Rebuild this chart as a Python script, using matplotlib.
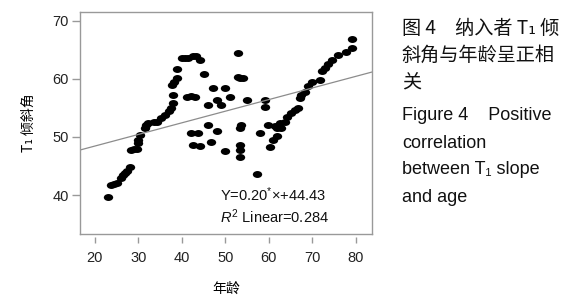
import matplotlib
matplotlib.use("Agg")
import matplotlib.pyplot as plt
from matplotlib.markers import MarkerStyle
from matplotlib.transforms import Affine2D

plt.rcParams["font.family"] = ["Liberation Sans", "Noto Sans CJK SC", "DejaVu Sans"]
plt.rcParams["mathtext.fontset"] = "custom"
plt.rcParams["mathtext.rm"] = "Liberation Sans"
plt.rcParams["mathtext.it"] = "Liberation Sans:italic"

# age vs T1 slope
age = [
    23.1, 23.8, 24.4, 25.0, 26.0, 26.5, 26.9, 27.3, 28.0,
    28.4, 28.9, 29.6, 30.0, 30.0, 30.3, 31.5, 31.8, 32.3, 33.5, 34.2,
    35.3, 36.1, 37.0, 37.5, 38.0, 38.0, 37.8, 38.2, 39.0, 38.8,
    40.1, 40.8, 41.5, 42.6, 43.2, 44.1,
    41.1, 42.2, 43.0, 45.0, 47.2, 49.9, 46.0, 48.0, 49.1, 51.0,
    52.9, 52.9, 53.3, 54.1, 54.9, 59.1, 59.1,
    42.2, 43.7, 46.0, 48.0, 53.7, 53.3, 59.8, 57.9,
    42.6, 44.1, 46.8, 49.9, 53.3, 53.3, 53.3, 57.2,
    60.2, 61.0, 61.8, 61.8, 62.9, 63.7, 64.1, 65.2, 66.0, 66.7,
    67.1, 67.5, 68.3, 69.0, 69.8, 71.7, 72.1, 72.9, 73.6, 74.4,
    75.9, 77.8, 79.0, 79.0, 62.5, 61.4,
]
slope = [
    39.6, 41.8, 41.9, 42.1, 42.9, 43.4, 43.8, 44.2, 44.8,
    47.8, 47.9, 48.0, 48.9, 49.5, 50.3, 51.5, 52.0, 52.4, 52.5, 52.6,
    53.2, 53.8, 54.5, 55.0, 55.8, 57.2, 59.0, 59.5, 60.1, 61.7,
    63.6, 63.6, 63.6, 64.0, 64.0, 63.3,
    56.8, 57.1, 56.9, 60.8, 58.4, 58.4, 55.5, 56.4, 55.5, 56.9,
    64.4, 60.4, 60.2, 60.1, 56.4, 56.4, 55.2,
    50.6, 50.6, 52.1, 51.1, 52.1, 51.5, 52.1, 50.6,
    48.6, 48.4, 49.2, 47.5, 48.6, 47.8, 46.6, 43.7,
    48.3, 49.5, 50.1, 51.5, 51.5, 52.6, 53.5, 54.1, 54.7, 54.9,
    56.7, 57.2, 57.8, 58.7, 59.5, 59.8, 61.3, 61.8, 62.6, 63.3,
    64.1, 64.7, 65.3, 66.8, 52.4, 51.8,
]
fit_slope = 0.20
fit_intercept = 44.43

x_ticks = [20, 30, 40, 50, 60, 70, 80]
y_ticks = [40, 50, 60, 70]

caption = [
    "图 4　纳入者 T\u2081 倾",
    "斜角与年龄呈正相",
    "关",
    "Figure 4    Positive",
    "correlation",
    "between T\u2081 slope",
    "and age",
]

cjk = ["Noto Sans CJK SC", "DejaVu Sans"]

fig = plt.figure(figsize=(5.73, 3.0), dpi=100)
ax = fig.add_axes([0.1396, 0.22, 0.5096, 0.74])

frame = "#999999"
ell = MarkerStyle("o", transform=Affine2D().scale(1.35, 1.0))
ax.plot(age, slope, linestyle="none", marker=ell, markersize=5.0,
        color="black", markeredgewidth=0)

ax.axline((0, fit_intercept), slope=fit_slope, color="#8c8c8c", lw=0.9)

ax.set_xlim(16.6, 83.7)
ax.set_ylim(33.3, 71.5)
ax.set_xticks(x_ticks)
ax.set_yticks(y_ticks)

for s in ax.spines.values():
    s.set_color(frame)
    s.set_linewidth(1.0)
ax.spines["bottom"].set_position(("outward", 2.5))
ax.spines["bottom"].set_color("none")
ax.plot([0, 1], [0, 0], transform=ax.transAxes, color=frame, lw=1.0, clip_on=False)

ax.tick_params(axis="both", colors=frame, labelcolor="#222222", labelsize=10.5,
               width=1.0)
ax.tick_params(axis="x", length=4, pad=6)
ax.tick_params(axis="y", length=6, pad=2)

ax.set_xlabel("年龄", fontsize=10, labelpad=12, family=cjk)
ax.set_ylabel("T\u2081 倾斜角", fontsize=10, labelpad=12, family=cjk)

ax.text(0.48, 0.15, "Y=0.20$^{*}$\u00d7+44.43", transform=ax.transAxes,
        fontsize=10.5, color="#111111")
ax.text(0.48, 0.05, "$R^2$ Linear=0.284", transform=ax.transAxes,
        fontsize=10.5, color="#111111")

line_y = [28, 55, 82, 115, 143, 170, 198]
for txt, py in zip(caption, line_y):
    is_cn = any(ord(c) > 0x3000 for c in txt)
    fig.text(402 / 573, 1 - py / 300, txt, fontsize=13.8 if is_cn else 13,
             va="center", ha="left", color="#111111",
             family=cjk if is_cn else ["Liberation Sans", "DejaVu Sans"],
             fontweight="medium" if is_cn else "normal")

fig.savefig("out.png", dpi=100)
